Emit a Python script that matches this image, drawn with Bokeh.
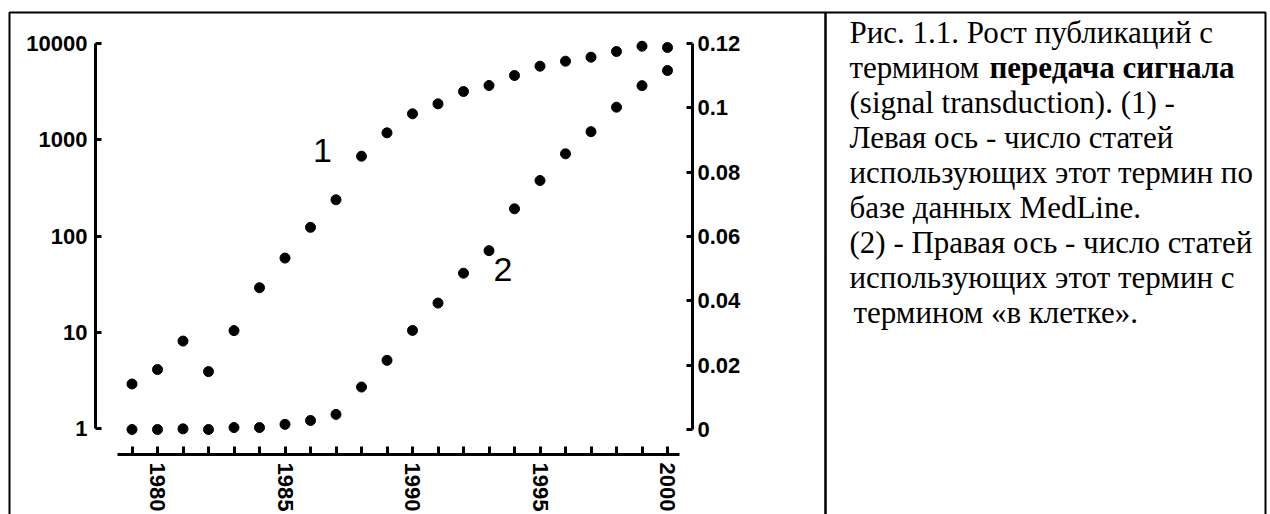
from bokeh.plotting import figure
from bokeh.models import (Range1d, LinearAxis, LinearScale, FixedTicker, CustomJSTickFormatter,
                          PrintfTickFormatter, Label, BoxAnnotation)
from bokeh.embed import file_html
from bokeh.resources import INLINE

# ---------------- data ----------------
years = [1979, 1980, 1981, 1982, 1983, 1984, 1985, 1986, 1987, 1988, 1989,
         1990, 1991, 1992, 1993, 1994, 1995, 1996, 1997, 1998, 1999, 2000]
# (1) number of papers with "signal transduction" (left, log axis)
papers_total = [2.9, 4.1, 8.1, 3.9, 10.4, 29, 59, 123, 238, 675, 1180,
                1860, 2360, 3170, 3660, 4650, 5810, 6550, 7210, 8260, 9370, 9080]
# (2) share with "in the cell" (right, linear axis)
papers_cell = [0.0, 0.0, 0.0002, 0.0, 0.0006, 0.0006, 0.0016, 0.0028, 0.0047, 0.0132, 0.0215,
               0.0308, 0.0393, 0.0486, 0.0556, 0.0686, 0.0774, 0.0857, 0.0926, 0.1002, 0.1069, 0.1116]
left_ticks = [1, 10, 100, 1000, 10000]
right_ticks = [0, 0.02, 0.04, 0.06, 0.08, 0.1, 0.12]
series_labels = ["1", "2"]

caption_lines = [
    "Рис. 1.1. Рост публикаций с",
    "термином ",
    "(signal transduction). (1) -",
    "Левая ось - число статей",
    "использующих этот термин по",
    "базе данных MedLine.",
    "(2) - Правая ось - число статей",
    "использующих этот термин с",
    "термином «в клетке».",
]
caption_bold = "передача сигнала"

# ---------------- figure ----------------
W, H = 1270, 514
p = figure(width=W, height=H, output_backend="svg", toolbar_location=None,
           y_axis_type="log",
           x_range=Range1d(1973.843, 2023.647),
           y_range=Range1d(0.1278, 27980),
           min_border=0, min_border_left=0, min_border_right=0,
           min_border_top=0, min_border_bottom=0)
p.extra_y_ranges = {"r": Range1d(-0.026425, 0.133368)}
p.extra_y_scales = {"r": LinearScale()}
p.grid.visible = False
p.outline_line_color = None
p.background_fill_color = "white"
p.border_fill_color = "white"

FONT = "Liberation Sans"
FS = "22px"


def style_axis(ax):
    ax.axis_line_width = 3
    ax.axis_line_color = "black"
    ax.major_tick_line_width = 3
    ax.major_tick_line_color = "black"
    ax.minor_tick_line_color = None
    ax.major_tick_out = 0
    ax.major_label_text_font = FONT
    ax.major_label_text_font_style = "bold"
    ax.major_label_text_font_size = FS
    ax.major_label_text_color = "black"


# left log axis
ly = p.yaxis[0]
style_axis(ly)
ly.fixed_location = 1977.569
ly.ticker = FixedTicker(ticks=left_ticks)
ly.formatter = PrintfTickFormatter(format="%d")
ly.bounds = (left_ticks[0], left_ticks[-1])
ly.major_tick_in = 6
ly.major_label_standoff = 8

# right linear axis
ry = LinearAxis(y_range_name="r", fixed_location=2000.98)
style_axis(ry)
ry.ticker = FixedTicker(ticks=right_ticks)
ry.formatter = CustomJSTickFormatter(code="return String(+tick.toFixed(2));")
ry.bounds = (right_ticks[0], right_ticks[-1])
ry.major_tick_in = 6
ry.major_label_standoff = 5
p.add_layout(ry, "right")

# bottom axis
bx = p.xaxis[0]
style_axis(bx)
bx.fixed_location = 0.5369
bx.ticker = FixedTicker(ticks=years)
bx.formatter = CustomJSTickFormatter(code="return (tick % 5 == 0) ? String(tick) : '';")
bx.bounds = (1978.43, 2000.47)
bx.major_tick_in = 8
bx.major_label_orientation = "vertical"
bx.major_label_standoff = 8

# points
p.scatter(years, papers_total, size=10, color="black", marker="circle")
p.scatter(years, papers_cell, size=10, color="black", marker="circle", y_range_name="r")

# series labels
p.add_layout(Label(x=1986.47, y=773, text=series_labels[0], text_font=FONT,
                   text_font_size="34px", text_align="center", text_baseline="alphabetic",
                   text_color="black"))
p.add_layout(Label(x=1993.55, y=0.0497, y_range_name="r", text=series_labels[1], text_font=FONT,
                   text_font_size="34px", text_align="center", text_baseline="alphabetic",
                   text_color="black"))

# table borders
for l, r in [(9, 825), (825, 1265)]:
    p.add_layout(BoxAnnotation(left=l, right=r, top=12, bottom=800,
                               left_units="canvas", right_units="canvas",
                               top_units="canvas", bottom_units="canvas",
                               fill_color=None, fill_alpha=0, line_color="black",
                               line_width=2, line_alpha=1))

# caption
TX = 849
for i, t in enumerate(caption_lines):
    x = TX + (4 if i == 8 else 0)
    p.add_layout(Label(x=x, y=32 + 35 * i, x_units="canvas", y_units="canvas", text=t,
                       text_font="Liberation Serif", text_font_size="31px",
                       text_baseline="alphabetic", text_align="left", text_color="black"))
p.add_layout(Label(x=989, y=67, x_units="canvas", y_units="canvas", text=caption_bold,
                   text_font="Liberation Serif", text_font_size="31px", text_font_style="bold",
                   text_baseline="alphabetic", text_align="left", text_color="black"))

open("out.html", "w").write(file_html(p, INLINE))
